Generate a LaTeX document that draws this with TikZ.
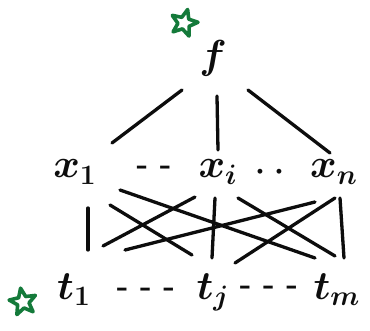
\documentclass[tikz,border=0pt]{standalone}
\usepackage{amsmath}
\usetikzlibrary{shapes.geometric}
\definecolor{Ink}{HTML}{0D0D0D}
\definecolor{Mark}{HTML}{147A3A}
\newcommand{\biglbl}[1]{\scalebox{1.95}{\huge\boldmath$#1$}}
\newcommand{\gaplbl}[1]{\scalebox{1.5}{\huge\bfseries #1}}

\begin{document}
\begin{tikzpicture}[x=1pt,y=-1pt,
  lab/.style={inner sep=1pt,Ink},
  gap/.style={inner sep=0pt,Ink},
  wire/.style={Ink,line width=3.3pt,line cap=round},
  starmark/.style={star,star points=5,star point ratio=2.3,draw=Mark,
    line width=3.6pt,line join=round,minimum size=28pt,inner sep=0pt}]
  \useasboundingbox (0,0) rectangle (370,331);
  \node[lab] (f)  at (213,58)  {\biglbl{f}};
  \node[lab] (x1) at (75,172)  {\biglbl{x_1}};
  \node[lab] (xi) at (218,172) {\biglbl{x_i}};
  \node[lab] (xn) at (334,172) {\biglbl{x_n}};
  \node[lab] (t1) at (74,290)  {\biglbl{t_1}};
  \node[lab] (tj) at (213,292) {\biglbl{t_j}};
  \node[lab] (tm) at (337,290) {\biglbl{t_m}};
  \node[gap] (dx1) at (154,170) {\gaplbl{- -}};
  \node[gap] (dx2) at (270,172) {\gaplbl{$\boldsymbol{\cdot}\;\boldsymbol{\cdot}$}};
  \node[gap] (dt1) at (146,292) {\gaplbl{- - -}};
  \node[gap] (dt2) at (269,290) {\gaplbl{- - -}};
  \node[starmark,rotate=-15] (s1) at (184,23) {};
  \node[starmark,rotate=10] (s2) at (23,302) {};
  \foreach \a/\sa/\b/\sb in {
    f/{(-31,32)}/x1/{(37,-29)},
    f/{(4,38)}/xi/{(0,-22)},
    f/{(35,32)}/xn/{(-4,-19)}} {
    \draw[wire] ([shift=\sa]\a.center) -- ([shift=\sb]\b.center);
  }
  \foreach \a/\sa/\b/\sb in {
    x1/{(13,36)}/t1/{(14,-40)},
    x1/{(35,33)}/tj/{(-21,-37)},
    x1/{(45,18)}/tm/{(-22,-32)},
    xi/{(-23,25)}/t1/{(29,-44)},
    xi/{(-3,26)}/tj/{(-1,-34)},
    xi/{(20,26)}/tm/{(-2,-34)},
    xn/{(-19,30)}/t1/{(51,-40)},
    xn/{(1,26)}/tj/{(22,-29)},
    xn/{(6,26)}/tm/{(7,-32)}} {
    \draw[wire] ([shift=\sa]\a.center) -- ([shift=\sb]\b.center);
  }
\end{tikzpicture}
\end{document}
